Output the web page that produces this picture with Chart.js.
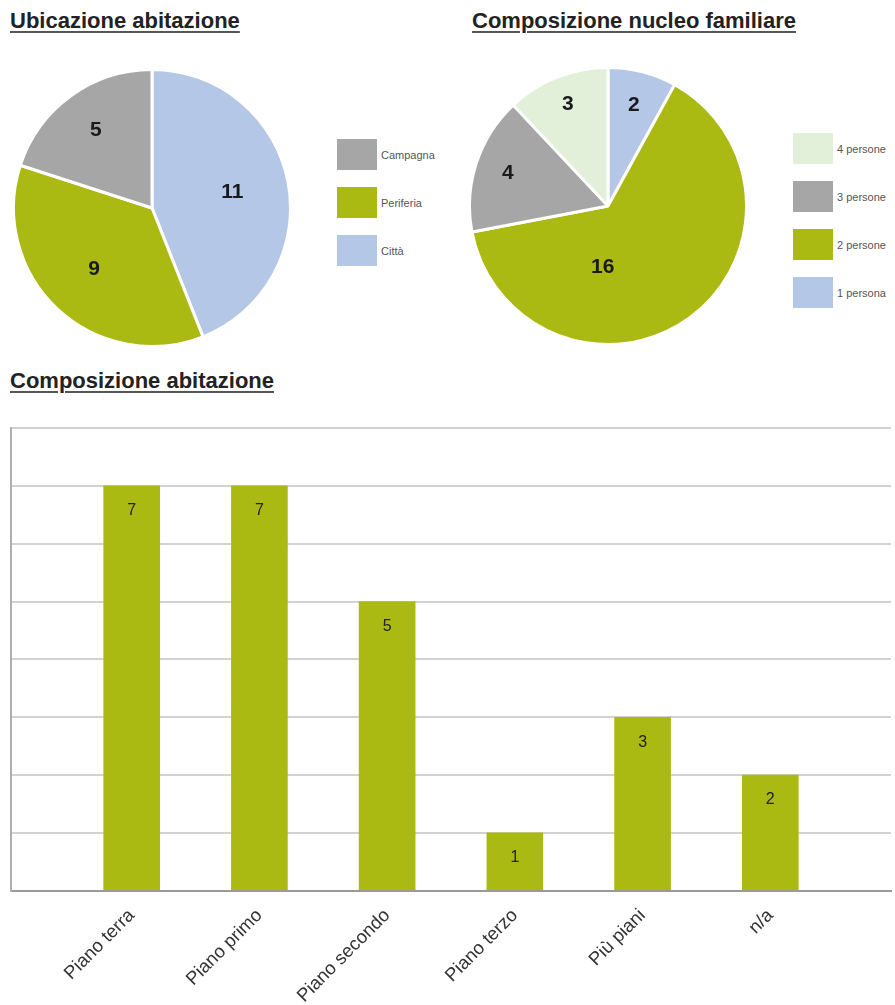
<!DOCTYPE html>
<html lang="it">
<head>
<meta charset="utf-8">
<title>Abitazione e nucleo familiare</title>
<script src="https://cdn.jsdelivr.net/npm/chart.js@4.4.1/dist/chart.umd.min.js"></script>
<style>
  html, body { margin: 0; padding: 0; background: #fff; }
  body { width: 895px; height: 1005px; position: relative; overflow: hidden;
         font-family: "Liberation Sans", Arial, Helvetica, sans-serif; }
  .titolo { position: absolute; margin: 0; font-size: 22px; line-height: 22px; font-weight: bold; color: #222;
            text-decoration: underline; text-decoration-thickness: 2px; text-underline-offset: 3px;
            text-decoration-color: #555; white-space: nowrap; }
  .box { position: absolute; }
  .legenda { position: absolute; margin: 0; padding: 0; list-style: none; }
  .legenda li { display: flex; align-items: center; height: 31px; margin-bottom: 17px; }
  .legenda .quadrato { width: 40px; height: 31px; margin-right: 4px; }
  .legenda span { font-size: 11px; color: #555; }
</style>
</head>
<body>

<h2 class="titolo" style="left:10px; top:10px;">Ubicazione abitazione</h2>
<h2 class="titolo" style="left:472px; top:10px;">Composizione nucleo familiare</h2>
<h2 class="titolo" style="left:10px; top:370px;">Composizione abitazione</h2>

<div class="box" style="left:12px; top:68px; width:280px; height:280px;"><canvas id="torta-ubicazione"></canvas></div>
<ul class="legenda" id="legenda-ubicazione" style="left:337px; top:139px;"></ul>

<div class="box" style="left:468px; top:66px; width:280px; height:280px;"><canvas id="torta-nucleo"></canvas></div>
<ul class="legenda" id="legenda-nucleo" style="left:793px; top:133px;"></ul>

<div class="box" style="left:0; top:420px; width:895px; height:605px;"><canvas id="barre-abitazione"></canvas></div>

<script>
/* =======================================
   DATI
======================================= */
const ubicazioneEtichette = ["Città", "Periferia", "Campagna"];
const ubicazioneValori = [11, 9, 5];

const nucleoEtichette = ["1 persona", "2 persone", "3 persone", "4 persone"];
const nucleoValori = [2, 16, 4, 3];

const pianiEtichette = ["Piano terra", "Piano primo", "Piano secondo", "Piano terzo", "Più piani", "n/a"];
const pianiValori = [7, 7, 5, 1, 3, 2];

const assiY = { min: 0, max: 8, passo: 1 };

/* =======================================
   COLORI
======================================= */
const VERDE = "#abb913";
const GRIGIO = "#a6a6a6";
const AZZURRO = "#b4c7e7";
const VERDINO = "#e2efd9";

Chart.defaults.font.family = '"Liberation Sans", Arial, Helvetica, sans-serif';
Chart.defaults.animation = false;

/* =======================================
   PLUGIN
======================================= */

// Scrive il valore dentro ogni spicchio; pos = [frazione del raggio, angolo opzionale in gradi]
const etichetteTorta = {
  id: "etichetteTorta",
  afterDatasetsDraw(chart, args, opts) {
    const { ctx } = chart;
    const meta = chart.getDatasetMeta(0);
    const valori = chart.data.datasets[0].data;
    ctx.save();
    ctx.font = "bold 21px " + Chart.defaults.font.family;
    ctx.fillStyle = "#1a1a1a";
    ctx.textAlign = "center";
    ctx.textBaseline = "middle";
    meta.data.forEach((arc, i) => {
      const { x, y, startAngle, endAngle, outerRadius } = arc.getProps(["x", "y", "startAngle", "endAngle", "outerRadius"], true);
      const pos = (opts.posizioni && opts.posizioni[i]) || [0.6];
      const ang = pos[1] !== undefined ? (pos[1] - 90) * Math.PI / 180 : (startAngle + endAngle) / 2;
      const r = outerRadius * pos[0];
      ctx.fillText(String(valori[i]), x + Math.cos(ang) * r, y + Math.sin(ang) * r);
    });
    ctx.restore();
  }
};

// Valore scritto sotto il bordo superiore della barra
const etichetteBarre = {
  id: "etichetteBarre",
  afterDatasetsDraw(chart) {
    const { ctx } = chart;
    const meta = chart.getDatasetMeta(0);
    ctx.save();
    ctx.font = "16px " + Chart.defaults.font.family;
    ctx.fillStyle = "#222";
    ctx.textAlign = "center";
    ctx.textBaseline = "middle";
    meta.data.forEach((bar, i) => {
      ctx.fillText(String(pianiValori[i]), bar.x, bar.y + 25);
    });
    ctx.restore();
  }
};

// Legenda HTML (ordine invertito, come nel grafico originale)
function creaLegenda(chart, idLista) {
  const ul = document.getElementById(idLista);
  ul.innerHTML = "";
  const voci = chart.options.plugins.legend.labels.generateLabels(chart).reverse();
  voci.forEach((voce) => {
    const li = document.createElement("li");
    const q = document.createElement("div");
    q.className = "quadrato";
    q.style.background = voce.fillStyle;
    const t = document.createElement("span");
    t.textContent = voce.text;
    li.appendChild(q);
    li.appendChild(t);
    ul.appendChild(li);
  });
}

/* =======================================
   TORTE
======================================= */
function creaTorta(canvasId, etichette, valori, colori, posizioni) {
  return new Chart(document.getElementById(canvasId), {
    type: "pie",
    data: {
      labels: etichette,
      datasets: [{
        data: valori,
        backgroundColor: colori,
        borderColor: "#fff",
        borderWidth: 3,
        hoverOffset: 0,
        offset: 0
      }]
    },
    options: {
      responsive: true,
      maintainAspectRatio: false,
      layout: { padding: 0 },
      plugins: {
        legend: { display: false },
        tooltip: { enabled: false },
        etichetteTorta: { posizioni }
      }
    },
    plugins: [etichetteTorta]
  });
}

const tortaUbicazione = creaTorta("torta-ubicazione", ubicazioneEtichette, ubicazioneValori,
  [AZZURRO, VERDE, GRIGIO], [[0.59], [0.61], [0.69]]);
creaLegenda(tortaUbicazione, "legenda-ubicazione");

const tortaNucleo = creaTorta("torta-nucleo", nucleoEtichette, nucleoValori,
  [AZZURRO, VERDE, GRIGIO, VERDINO], [[0.75], [0.44, 185], [0.76], [0.79]]);
creaLegenda(tortaNucleo, "legenda-nucleo");

/* =======================================
   BARRE
======================================= */
new Chart(document.getElementById("barre-abitazione"), {
  type: "bar",
  data: {
    datasets: [{
      data: pianiValori.map((v, i) => ({ x: i, y: v })),
      backgroundColor: VERDE,
      borderWidth: 0,
      barThickness: 56
    }]
  },
  options: {
    responsive: true,
    maintainAspectRatio: false,
    layout: { padding: { left: 11, right: 4, top: 8, bottom: 12 } },
    scales: {
      x: {
        type: "linear",
        offset: false,
        min: -0.945,
        max: pianiEtichette.length - 1 + 0.945,
        grid: { display: false, offset: false },
        border: { display: true, color: "#9a9a9a", width: 2 },
        ticks: {
          stepSize: 1,
          includeBounds: false,
          autoSkip: false,
          minRotation: 45,
          maxRotation: 45,
          padding: 6,
          color: "#333",
          font: { size: 18.5 },
          callback: (v) => pianiEtichette[v] ?? ""
        }
      },
      y: {
        min: assiY.min,
        max: assiY.max,
        grid: { color: "#d2d2d2", lineWidth: 2, drawTicks: false },
        border: { display: true, color: "#b0b0b0", width: 2 },
        ticks: { display: false, stepSize: assiY.passo }
      }
    },
    plugins: {
      legend: { display: false },
      tooltip: { enabled: false }
    }
  },
  plugins: [etichetteBarre]
});
</script>
</body>
</html>
